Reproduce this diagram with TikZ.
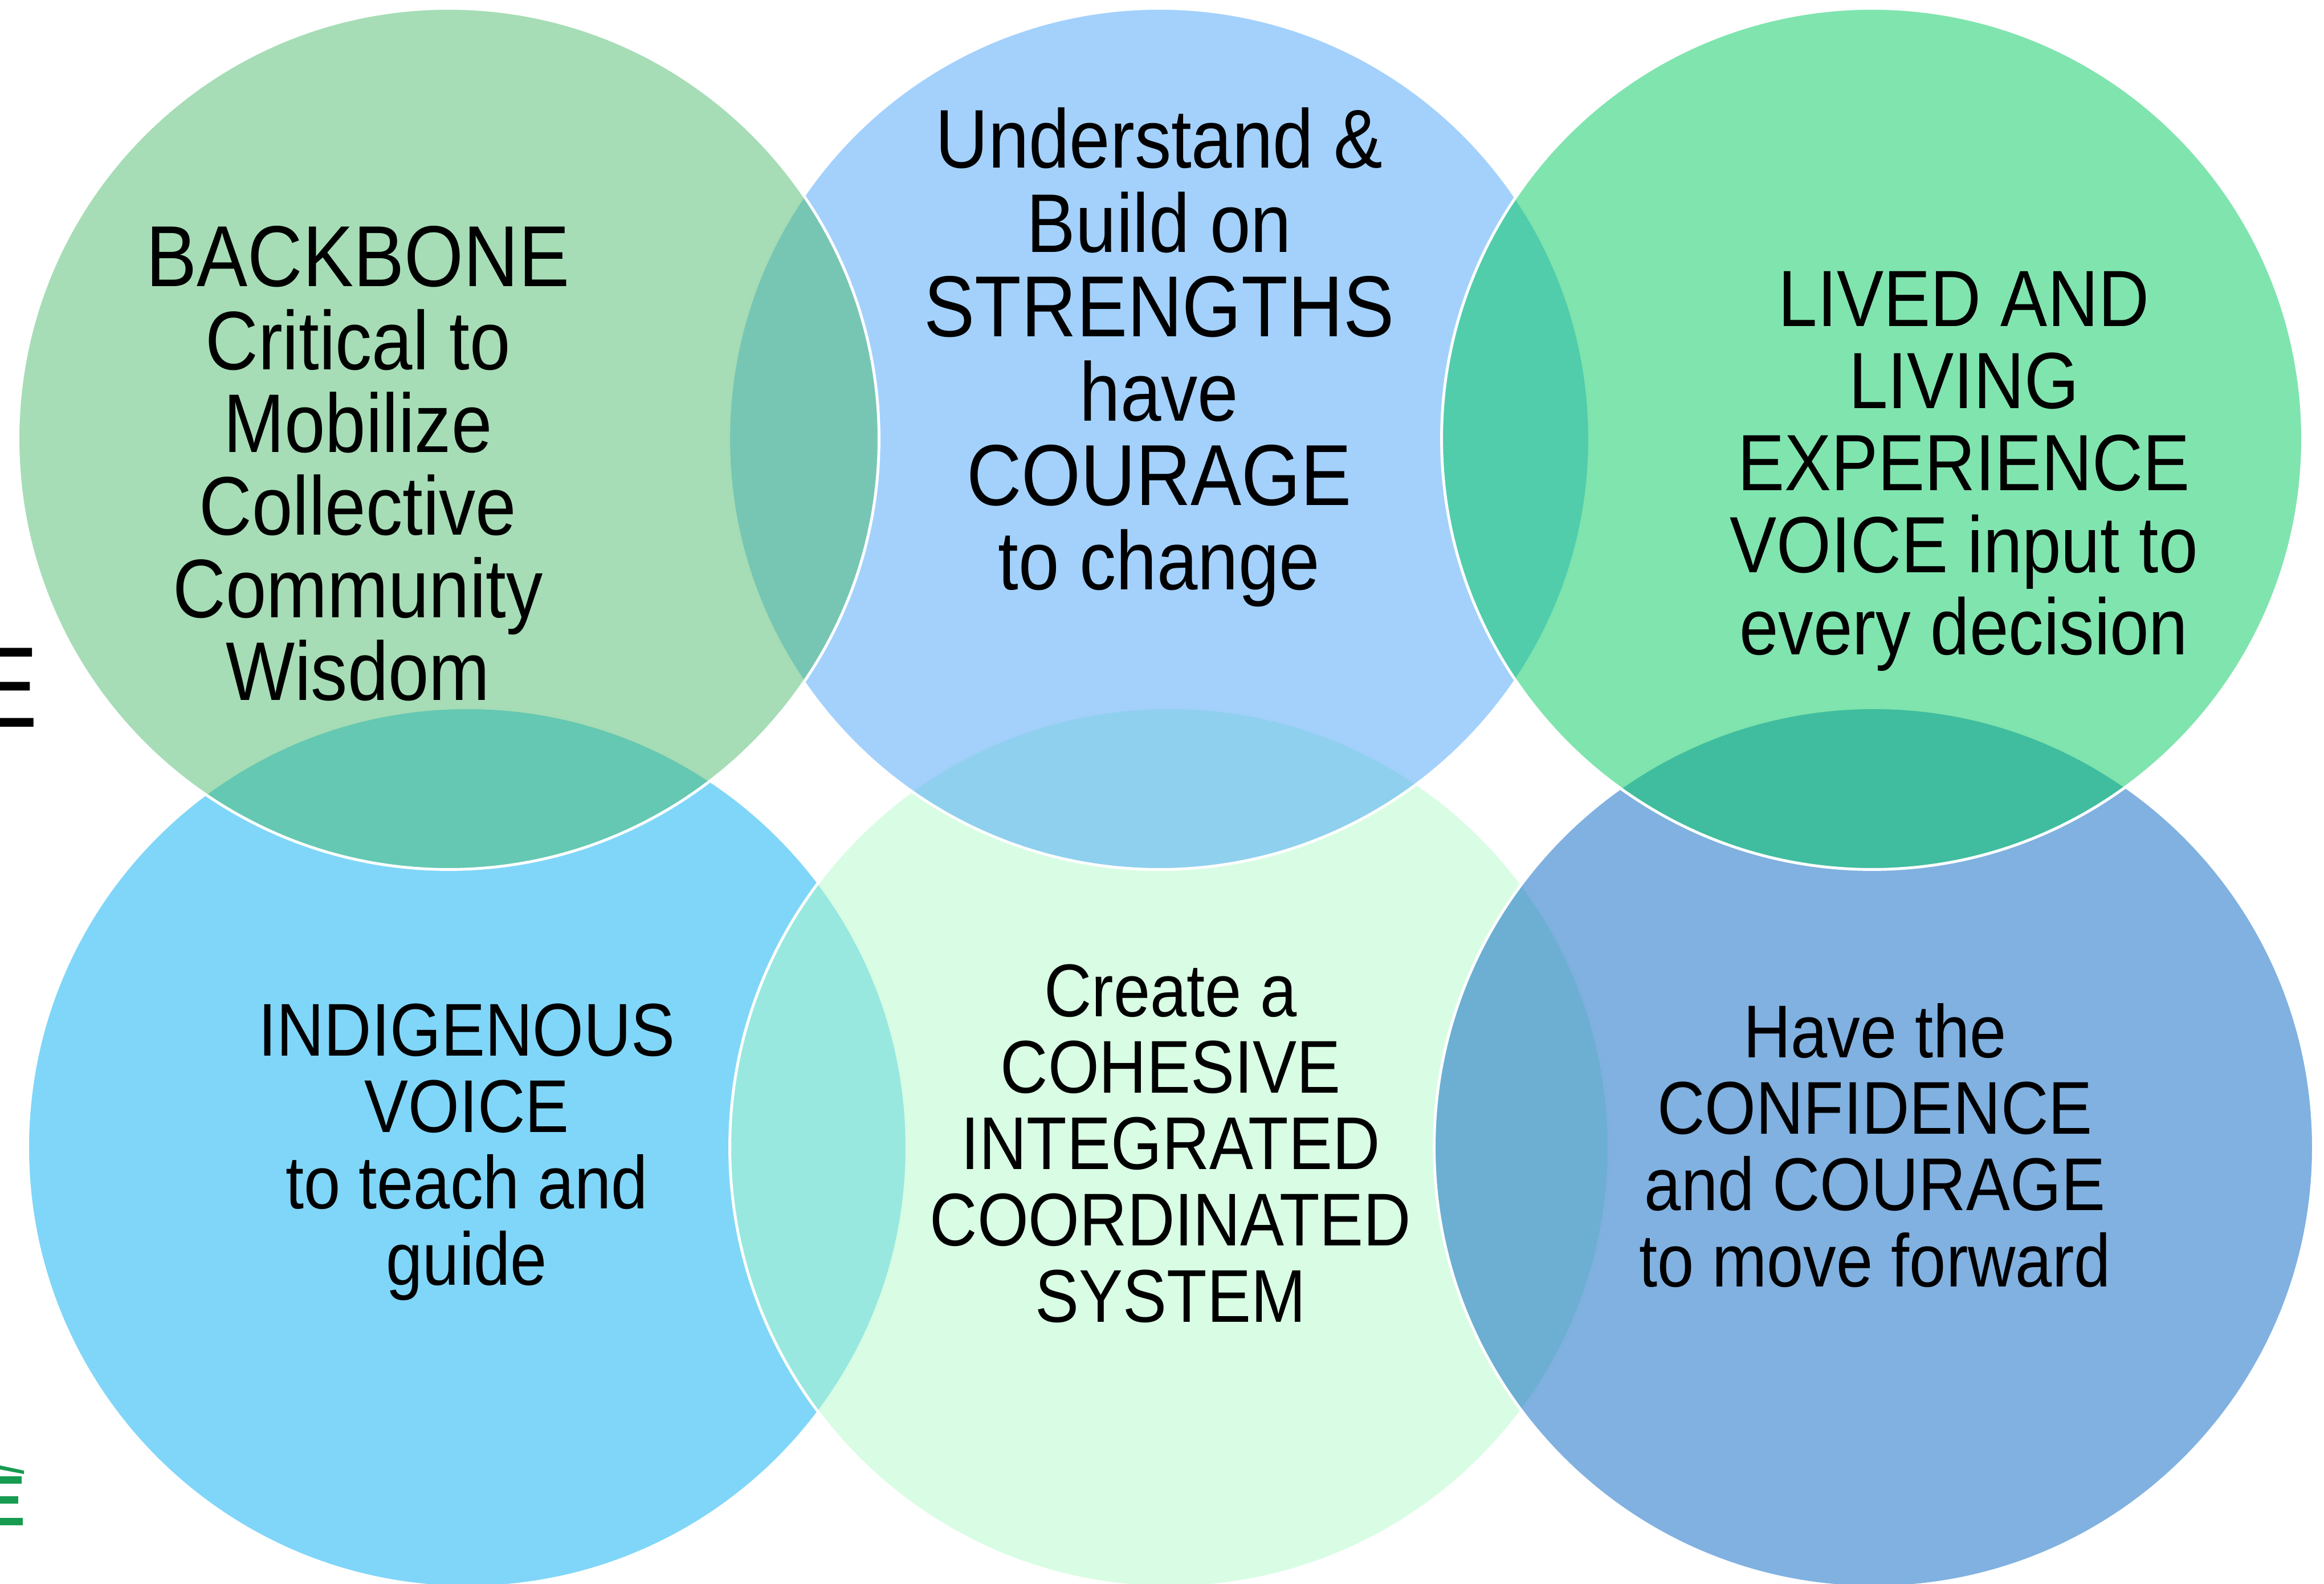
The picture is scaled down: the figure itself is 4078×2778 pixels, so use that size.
\documentclass[tikz,border=0pt]{standalone}
\usepackage{fontspec}
\setmainfont{Liberation Sans}[FakeStretch=0.88]
\usepackage{tikz}
\usepackage{xcolor}
\definecolor{cBackbone}{HTML}{4DBB6D}
\definecolor{cStrengths}{HTML}{47A3F9}
\definecolor{cLived}{HTML}{01C95D}
\definecolor{cIndigenous}{HTML}{01ADF1}
\definecolor{cSystem}{HTML}{B1FBC9}
\definecolor{cForward}{HTML}{0263C2}
\definecolor{logoGreen}{HTML}{169B50}
\tikzstyle{venntop} = [circle,minimum size=15.1cm,inner sep=0pt,fill opacity=0.5,draw=white,line width=1.4pt]
\tikzstyle{vennbot} = [venntop,minimum size=15.42cm]
\tikzset{
venntext/.style={align=center,inner sep=0pt,anchor=north,text=black}
}
\newcommand{\fontTopL}{\fontsize{41.5pt}{41.3pt}\selectfont}
\newcommand{\fontTopM}{\fontsize{41.5pt}{42.1pt}\selectfont}
\newcommand{\fontTopR}{\fontsize{39.8pt}{41pt}\selectfont}
\newcommand{\fontBot}{\fontsize{37.3pt}{38.1pt}\selectfont}
\newcommand{\bigcaps}[1]{{\fontsize{43.2pt}{41.3pt}\selectfont #1}}

\begin{document}
\begin{tikzpicture}[x=0.01cm,y=-0.01cm]
\useasboundingbox (0,0) rectangle (4078,2778);
%----------------------------------------------------------------------------
% Placement of circle nodes
\node (circIndigenous) [vennbot,fill=cIndigenous] at (820,2013) {};
\node (circSystem) [vennbot,fill=cSystem] at (2052,2013) {};
\node (circForward) [vennbot,fill=cForward] at (3288,2013) {};
\node (circStrengths) [venntop,fill=cStrengths] at (2034,770) {};
\node (circBackbone) [venntop,fill=cBackbone] at (787,770) {};
\node (circLived) [venntop,fill=cLived] at (3285,770) {};


%----------------------------------------------------------------------------
% Text
\node (backboneText) [venntext,font=\fontTopL] at (628,396)
  {\bigcaps{BACKBONE}\\Critical to\\Mobilize\\Collective\\Community\\Wisdom};
\node (strengthsText) [venntext,font=\fontTopM] at (2034,188)
  {Understand \&\\Build on\\\bigcaps{STRENGTHS}\\have\\\bigcaps{COURAGE}\\to change};
\node (livedText) [venntext,font=\fontTopR] at (3446,475)
  {LIVED AND\\LIVING\\EXPERIENCE\\VOICE input to\\every decision};
\node (indigenousText) [venntext,font=\fontBot] at (819,1760)
  {INDIGENOUS\\VOICE\\to teach and\\guide};
\node (systemText) [venntext,font=\fontBot] at (2054,1691)
  {Create a\\COHESIVE\\INTEGRATED\\COORDINATED\\SYSTEM};
\node (forwardText) [venntext,font=\fontBot] at (3290,1760)
  {Have the\\CONFIDENCE\\and COURAGE\\to move forward};


%----------------------------------------------------------------------------
% Notes (cut-off pieces at the left edge)
\node (edgeLetter) [inner sep=0pt,anchor=base west,font=\fontsize{57.2pt}{57.2pt}\selectfont]
  at (-23,1275) {\scalebox{0.74}[1]{E}};
\fill[logoGreen] (0,2571) -- (42,2580) -- (42,2586) -- (0,2578) -- cycle;
\fill[logoGreen] (0,2590) rectangle (38,2603);
\fill[logoGreen] (0,2625) rectangle (32,2638);
\fill[logoGreen] (0,2663) rectangle (40,2676);

\end{tikzpicture}
\end{document}
